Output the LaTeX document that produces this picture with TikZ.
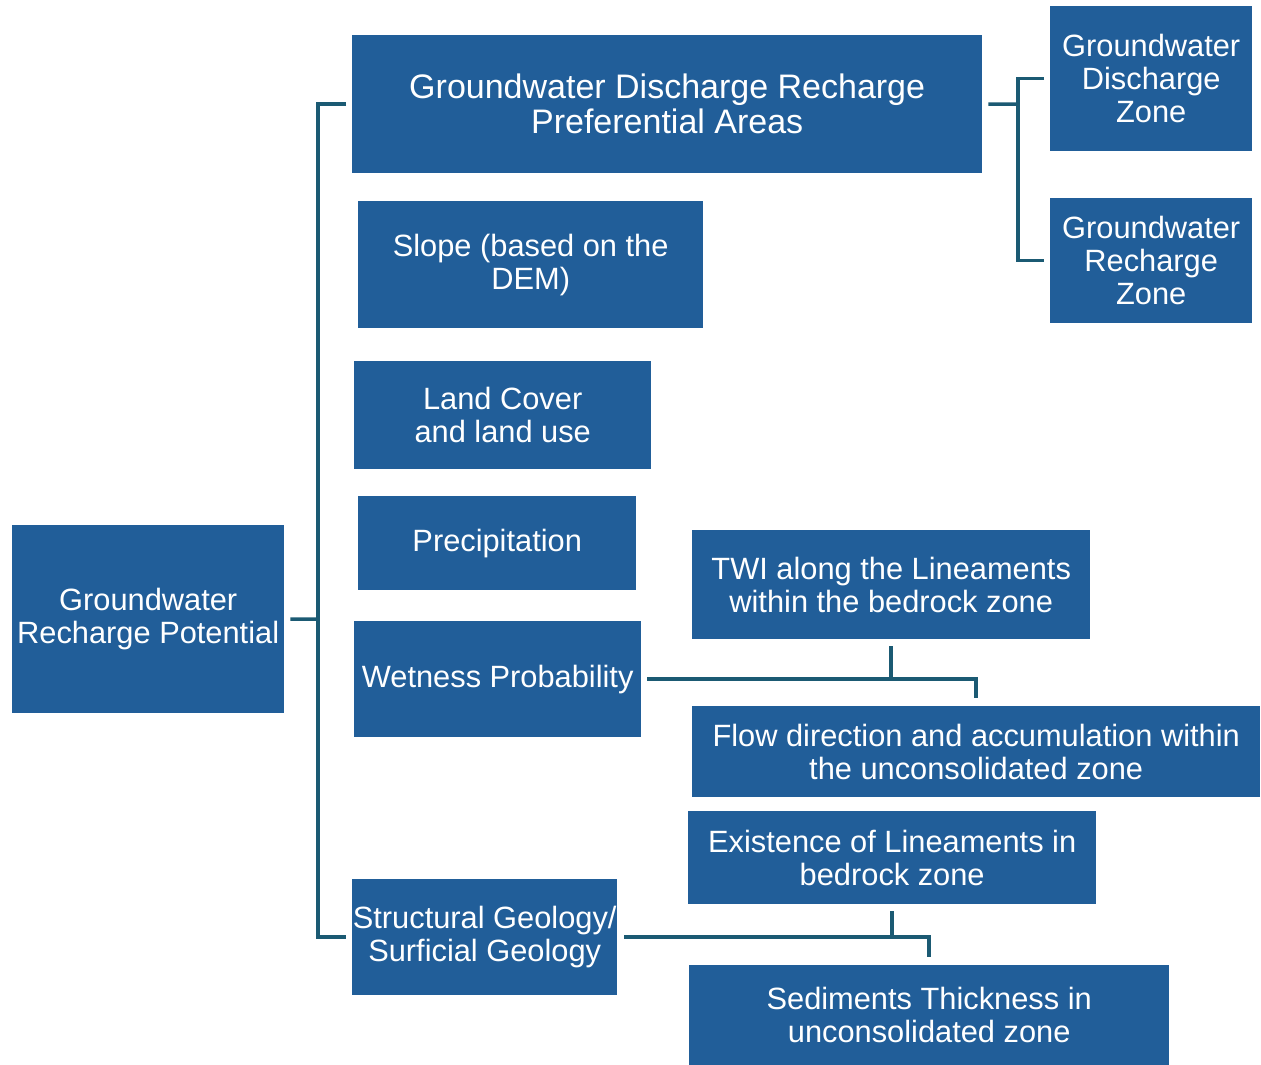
\documentclass[tikz,border=0pt]{standalone}
\usepackage{fontspec}
\setmainfont{Liberation Sans}
\definecolor{boxblue}{HTML}{215E99}
\definecolor{linecol}{HTML}{1B5A73}
\begin{document}
\begin{tikzpicture}[x=1pt,y=-1pt,
  box/.style={fill=boxblue, text=white, align=center, inner sep=0pt, anchor=north west,
    font=\fontsize{30.8}{33}\selectfont},
  conn/.style={draw=linecol, line width=3.5pt}]
\useasboundingbox (0,0) rectangle (1261,1065);
\node[box, minimum width=272pt, minimum height=188pt] (gp) at (12,525) {Groundwater\\Recharge Potential};
\node[box, minimum width=630pt, minimum height=138pt, font=\fontsize{34}{35}\selectfont] (pa) at (352,35) {Groundwater Discharge Recharge\\Preferential Areas};
\node[box, minimum width=345pt, minimum height=127pt] (sl) at (358,201) {Slope (based on the\\DEM)};
\node[box, minimum width=297pt, minimum height=108pt] (lc) at (354,361) {Land Cover\\and land use};
\node[box, minimum width=278pt, minimum height=94pt] (pr) at (358,496) {Precipitation};
\node[box, minimum width=287pt, minimum height=116pt] (wp) at (354,621) {Wetness Probability};
\node[box, minimum width=265pt, minimum height=116pt] (sg) at (352,879) {Structural Geology/\\Surficial Geology};
\node[box, minimum width=202pt, minimum height=145pt] (dz) at (1050,6) {Groundwater\\Discharge\\Zone};
\node[box, minimum width=202pt, minimum height=125pt] (rz) at (1050,198) {Groundwater\\Recharge\\Zone};
\node[box, minimum width=398pt, minimum height=109pt] (twi) at (692,530) {TWI along the Lineaments\\within the bedrock zone};
\node[box, minimum width=568pt, minimum height=91pt] (fl) at (692,706) {Flow direction and accumulation within\\the unconsolidated zone};
\node[box, minimum width=408pt, minimum height=93pt] (ex) at (688,811) {Existence of Lineaments in\\bedrock zone};
\node[box, minimum width=480pt, minimum height=100pt] (sd) at (689,965) {Sediments Thickness in\\unconsolidated zone};
\coordinate (bx) at (318,619);
\coordinate (rb) at (1018,104);
\draw[conn] ([xshift=6pt]gp.east) -- (bx);
\draw[conn] ([xshift=-6pt]pa.west) -| (bx) |- ([xshift=-6pt]sg.west);
\draw[conn] ([xshift=6pt]pa.east) -- (rb);
\draw[conn] ([xshift=-6pt]dz.west) -| (rb) |- ([xshift=-6pt]rz.west);
\draw[conn] ([xshift=6pt]wp.east) -| ([yshift=8pt]fl.north);
\draw[conn] ([yshift=-7pt]twi.south) -- (twi.south |- wp.east);
\draw[conn] ([xshift=7pt]sg.east) -| ([yshift=8pt]sd.north);
\draw[conn] ([yshift=-7pt]ex.south) -- (ex.south |- sg.east);
\end{tikzpicture}
\end{document}
